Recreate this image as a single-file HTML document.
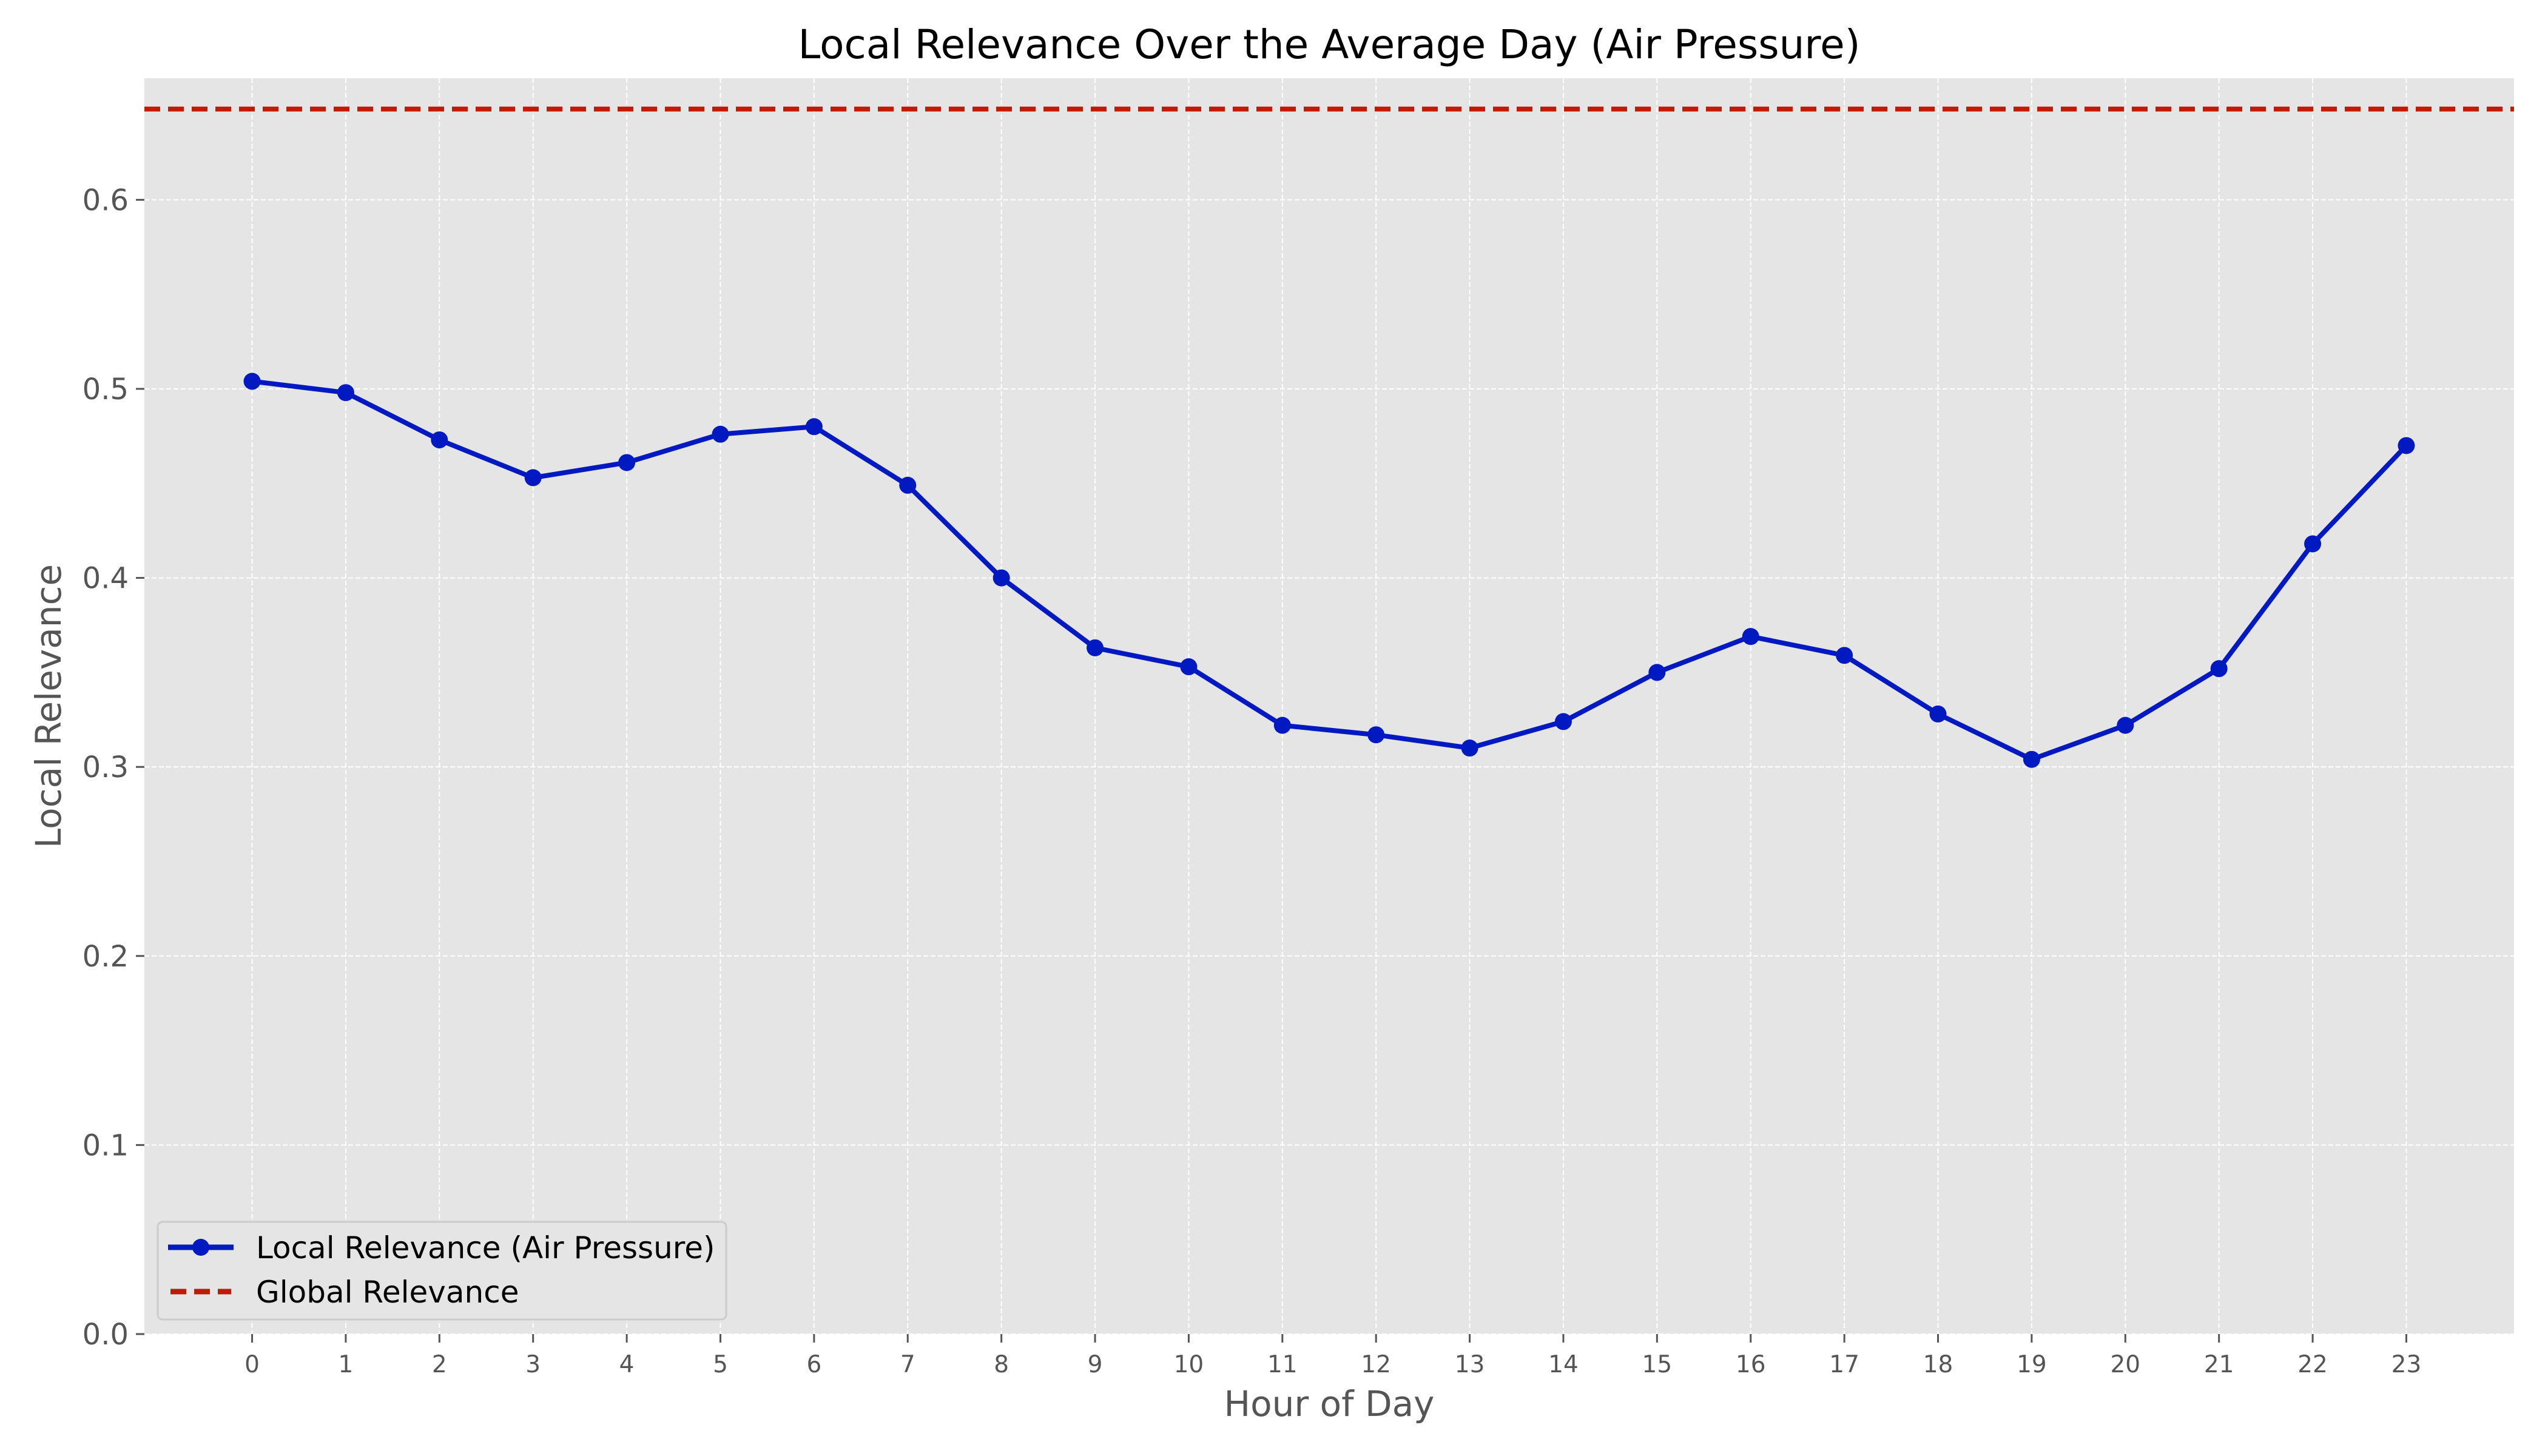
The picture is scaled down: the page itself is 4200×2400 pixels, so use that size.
<!DOCTYPE html>
<html><head><meta charset="utf-8"><style>
html,body{margin:0;padding:0;background:#fff;}
svg{display:block;font-family:"DejaVu Sans","Liberation Sans",sans-serif;}
</style></head><body>
<svg id="chart" width="4200" height="2400" viewBox="0 0 4200 2400">
<rect x="0" y="0" width="4200" height="2400" fill="#fff"/>
<rect x="238" y="129" width="3906" height="2070" fill="#e5e5e5"/>
<g id="grid"></g>
<g id="ticks"></g>
<g id="series"></g>
<text x="2191" y="96" font-size="66" text-anchor="middle" fill="#000">Local Relevance Over the Average Day (Air Pressure)</text>
<text x="2191" y="2334" font-size="58" text-anchor="middle" fill="#555">Hour of Day</text>
<text x="0" y="0" font-size="58" text-anchor="middle" fill="#555" transform="translate(100,1164) rotate(-90)">Local Relevance</text>
<g>
<rect x="260" y="2014" width="937" height="161" rx="8" fill="#e5e5e5" stroke="#ccc" stroke-width="3"/>
<line x1="277" y1="2056" x2="385" y2="2056" stroke="#0019c0" stroke-width="9"/>
<circle cx="331" cy="2056" r="14" fill="#0019c0"/>
<text x="422" y="2074" font-size="50" fill="#000">Local Relevance (Air Pressure)</text>
<line x1="281" y1="2129" x2="381" y2="2129" stroke="#c01a00" stroke-width="9" stroke-dasharray="26 13"/>
<text x="422" y="2147" font-size="50" fill="#000">Global Relevance</text>
</g>
</svg>
<script>
const hours=[0,1,2,3,4,5,6,7,8,9,10,11,12,13,14,15,16,17,18,19,20,21,22,23];
const localRelevance=[0.504,0.498,0.473,0.453,0.461,0.476,0.480,0.449,0.400,0.363,0.353,0.322,0.317,0.310,0.324,0.350,0.369,0.359,0.328,0.304,0.322,0.352,0.418,0.470];
const globalRelevance=0.648;
const yTicks=[0,0.1,0.2,0.3,0.4,0.5,0.6];
const yTickLabels=["0.0","0.1","0.2","0.3","0.4","0.5","0.6"];
const L=238,R=4144,T=129,B=2199;
const xmin=-1.15,xmax=24.15,ymin=0,ymax=0.6643;
function xs(v){return L+(v-xmin)/(xmax-xmin)*(R-L);}
function ys(v){return B-(v-ymin)/(ymax-ymin)*(B-T);}
const NS="http://www.w3.org/2000/svg";
function mk(tag,attrs,parent){const e=document.createElementNS(NS,tag);for(const k in attrs)e.setAttribute(k,attrs[k]);parent.appendChild(e);return e;}
const grid=document.getElementById('grid'),ticks=document.getElementById('ticks'),series=document.getElementById('series');
hours.forEach(h=>{
 const x=xs(h);
 const g=mk('line',{x1:x,x2:x,y1:T,y2:B,stroke:'#fff','stroke-width':2,'stroke-dasharray':'8 4'},grid);
 
 
 const t=mk('line',{x1:x,x2:x,y1:B,y2:B+14,stroke:'#555','stroke-width':3},ticks);
 
 
 const l=mk('text',{x:x,y:B+63,'font-size':39,'text-anchor':'middle',fill:'#555'},ticks);
 l.textContent=String(h);
 
 
});
yTicks.forEach((v,i)=>{
 const y=ys(v);
 const g=mk('line',{x1:L,x2:R,y1:y,y2:y,stroke:'#fff','stroke-width':2,'stroke-dasharray':'8 4'},grid);
 
 
 const t=mk('line',{x1:L-14,x2:L,y1:y,y2:y,stroke:'#555','stroke-width':3},ticks);
 
 
 const l=mk('text',{x:L-26,y:y+17,'font-size':48,'text-anchor':'end',fill:'#555'},ticks);
 l.textContent=yTickLabels[i];
 
 
});
const gl=mk('line',{x1:L,x2:R,y1:ys(globalRelevance),y2:ys(globalRelevance),stroke:'#c01a00','stroke-width':8,'stroke-dasharray':'26 13'},series);


const pts=hours.map((h,i)=>xs(h)+','+ys(localRelevance[i])).join(' ');
const pl=mk('polyline',{points:pts,fill:'none',stroke:'#0019c0','stroke-width':8,'stroke-linejoin':'round'},series);


hours.forEach((h,i)=>{
 const c=mk('circle',{cx:xs(h),cy:ys(localRelevance[i]),r:14,fill:'#0019c0'},series);
 
 
});
</script>
</body></html>
